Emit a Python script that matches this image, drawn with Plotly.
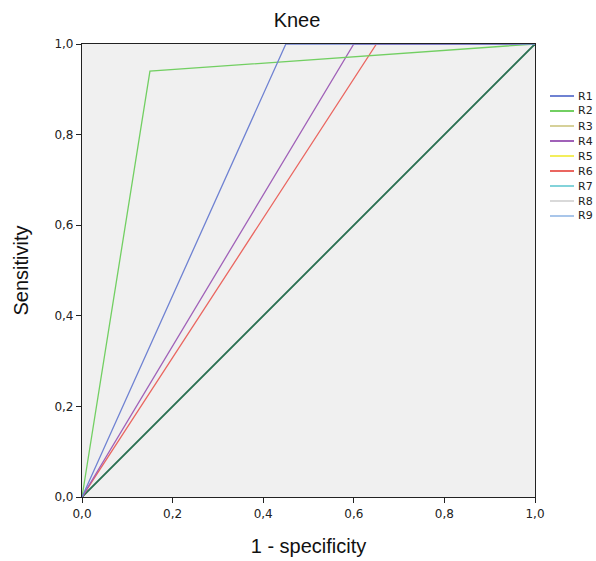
import plotly.graph_objects as go

series_names = ["R1", "R2", "R3", "R4", "R5", "R6", "R7", "R8", "R9"]
series_colors = ["#6f82d2", "#72cf62", "#d6d199", "#a061b8", "#f3ee5c",
                 "#ea6660", "#83d3da", "#d9d9d9", "#a9c6ea"]
# ROC points (1 - specificity, sensitivity)
fpr = {
    "R1": [0.0, 0.45, 1.0],
    "R2": [0.0, 0.15, 1.0],
    "R3": [0.0, 1.0],
    "R4": [0.0, 0.60, 1.0],
    "R5": [0.0, 1.0],
    "R6": [0.0, 0.65, 1.0],
    "R7": [0.0, 1.0],
    "R8": [0.0, 1.0],
    "R9": [0.0, 1.0],
}
tpr = {
    "R1": [0.0, 1.0, 1.0],
    "R2": [0.0, 0.94, 1.0],
    "R3": [0.0, 1.0],
    "R4": [0.0, 1.0, 1.0],
    "R5": [0.0, 1.0],
    "R6": [0.0, 1.0, 1.0],
    "R7": [0.0, 1.0],
    "R8": [0.0, 1.0],
    "R9": [0.0, 1.0],
}
ref_x = [0.0, 1.0]
ref_y = [0.0, 1.0]
tick_vals = [0.0, 0.2, 0.4, 0.6, 0.8, 1.0]

# full-window figure; the page's default body margin is removed below
W, H = 596, 561
L, T, PW = 82, 44, 453

fig = go.Figure()
for n in ["R3", "R5", "R7", "R8", "R9"]:
    i = series_names.index(n)
    fig.add_trace(go.Scatter(x=fpr[n], y=tpr[n], mode="lines", name=n,
                             line=dict(color=series_colors[i], width=1.4),
                             showlegend=False, hoverinfo="skip"))
fig.add_trace(go.Scatter(x=ref_x, y=ref_y, mode="lines", name="ref",
                         line=dict(color="#2d7150", width=1.8), showlegend=False))
for n in ["R6", "R4", "R2", "R1"]:
    i = series_names.index(n)
    fig.add_trace(go.Scatter(x=fpr[n], y=tpr[n], mode="lines", name=n,
                             line=dict(color=series_colors[i], width=1.3),
                             showlegend=False))

# compact legend (entries 15px apart, as in the reference)
shapes = []
annotations = []
for i, (n, c) in enumerate(zip(series_names, series_colors)):
    ypx = 52 + 15 * i          # offset from plot top, px
    yp = 1 - ypx / PW
    shapes.append(dict(type="line", xref="paper", yref="paper",
                       x0=468 / PW, x1=492 / PW, y0=yp, y1=yp,
                       line=dict(color=c, width=2)))
    annotations.append(dict(text=n, xref="paper", yref="paper",
                            x=494 / PW, y=yp, xanchor="left", yanchor="middle",
                            showarrow=False,
                            font=dict(family="DejaVu Sans", size=11, color="#222")))

fig.update_layout(
    width=W, height=H,
    margin=dict(l=L, r=W - L - PW, t=T, b=H - T - PW, autoexpand=False),
    paper_bgcolor="white",
    plot_bgcolor="#f0f0f0",
    separators=",.",
    title=dict(text="Knee", x=297 / W, xanchor="center",
               y=1 - 20 / H, yanchor="middle",
               font=dict(family="Liberation Sans, Arial", size=20, color="#111")),
    shapes=shapes,
    annotations=annotations,
    showlegend=False,
)
axis_common = dict(
    range=[0, 1], tickvals=tick_vals, tickformat=".1f",
    showgrid=False, zeroline=False,
    showline=True, linecolor="#222", linewidth=1.2, mirror=True,
    ticks="outside", ticklen=5, tickcolor="#222",
    tickfont=dict(family="DejaVu Sans", size=12, color="#222"),
)
fig.update_xaxes(**axis_common,
                 title=dict(text="1 - specificity", standoff=19,
                            font=dict(family="Liberation Sans, Arial", size=20, color="#111")))
fig.update_yaxes(**axis_common,
                 title=dict(text="Sensitivity", standoff=20,
                            font=dict(family="Liberation Sans, Arial", size=20, color="#111")))

fig.write_html("out.html",
               config={"displayModeBar": False},
               post_script="document.body.style.margin='0';document.body.style.overflow='hidden';")
